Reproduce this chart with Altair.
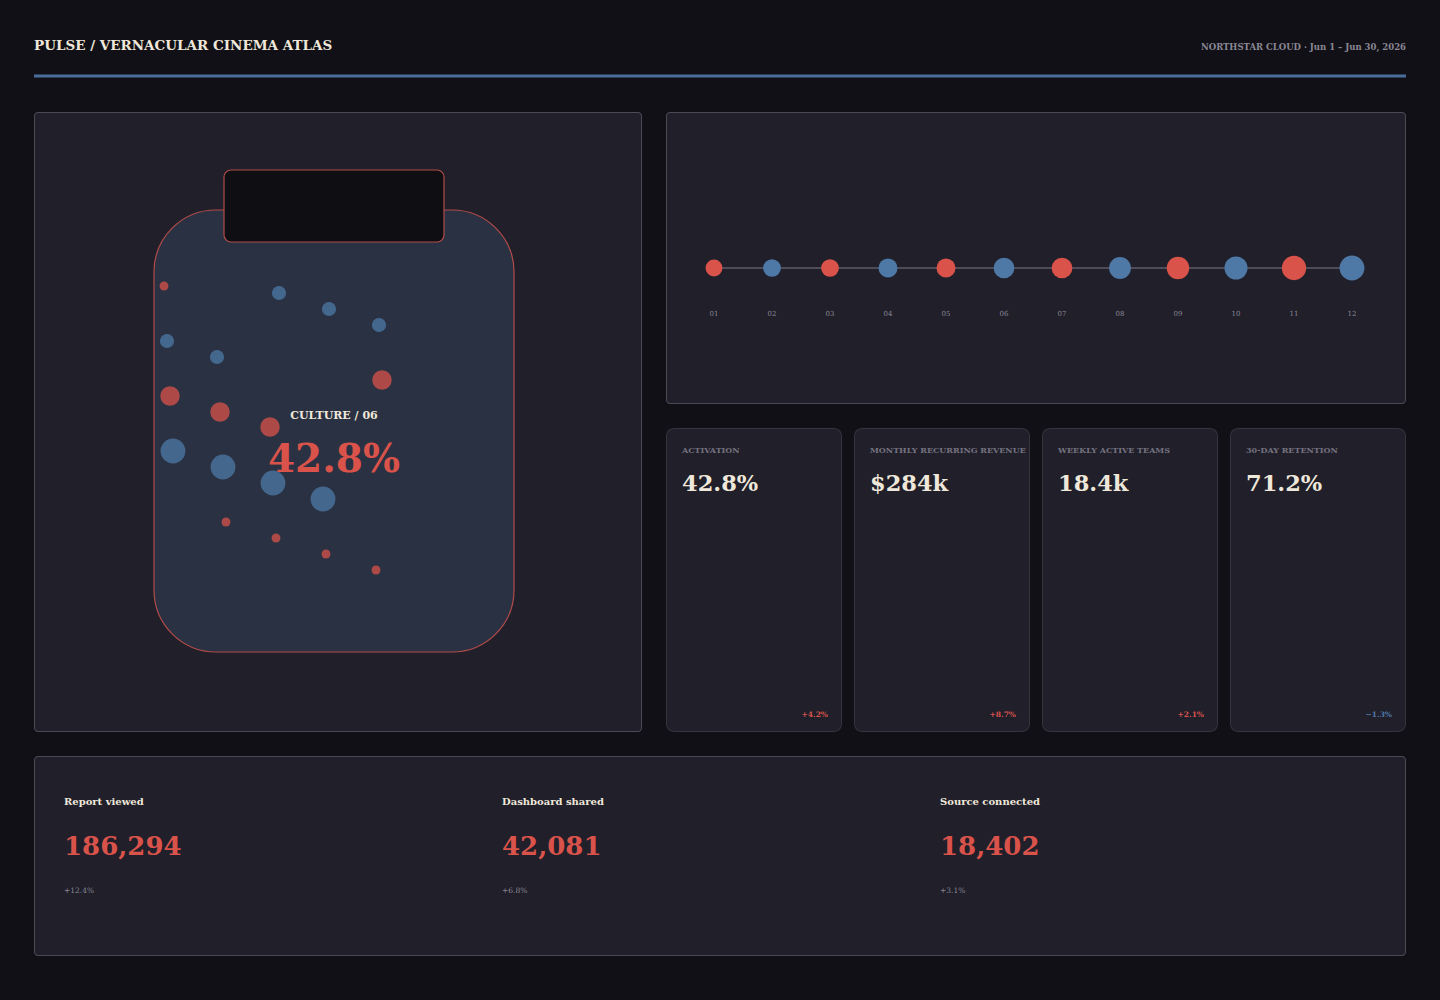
import altair as alt
import pandas as pd

# ---------------- data ----------------
header_title = "PULSE / VERNACULAR CINEMA ATLAS"
header_meta = "NORTHSTAR CLOUD · Jun 1 – Jun 30, 2026"

jar_label = "CULTURE / 06"
jar_value = "42.8%"
bubble_x = [130, 245, 295, 345, 133, 183, 348, 136, 186, 236, 139, 189, 239, 289, 192, 242, 292, 342]
bubble_y = [174, 181, 197, 213, 229, 245, 268, 284, 300, 315, 339, 355, 371, 387, 410, 426, 442, 458]
bubble_r = [5, 8, 8, 8, 8, 8, 11, 11, 11, 11, 14, 14, 14, 14, 5, 5, 5, 5]
bubble_kind = ["red", "blue", "blue", "blue", "blue", "blue", "red", "red", "red", "red",
               "blue", "blue", "blue", "blue", "red", "red", "red", "red"]

step_labels = ["01", "02", "03", "04", "05", "06", "07", "08", "09", "10", "11", "12"]
step_r = [9.5, 10, 10, 10.7, 10.7, 11.7, 11.7, 12.3, 12.7, 13, 13.7, 14]
step_kind = ["red", "blue", "red", "blue", "red", "blue", "red", "blue", "red", "blue", "red", "blue"]

card_labels = ["ACTIVATION", "MONTHLY RECURRING REVENUE", "WEEKLY ACTIVE TEAMS", "30-DAY RETENTION"]
card_values = ["42.8%", "$284k", "18.4k", "71.2%"]
card_deltas = ["+4.2%", "+8.7%", "+2.1%", "\u22121.3%"]
card_trend = ["up", "up", "up", "down"]

event_names = ["Report viewed", "Dashboard shared", "Source connected"]
event_counts = [186294, 42081, 18402]
event_deltas = ["+12.4%", "+6.8%", "+3.1%"]

# ---------------- style ----------------
SERIF = "DejaVu Serif"
BG = "#111016"
PANEL = "#201f2a"
PANEL_STROKE = "#4b4a55"
CARD_STROKE = "#35343f"
CREAM = "#efe8da"
MUTED = "#8a8794"
LABEL_GREY = "#75727f"
RED = "#d9534a"
BLUE = "#4e79a7"
BLUE_TXT = "#5b84b5"
JAR_FILL = "#2a3142"
JAR_STROKE = "#b24c4a"
LID_FILL = "#0f0e13"
RULE = "#4a6d9c"
LINE = "#4d4c58"

kind_color = alt.Scale(domain=["red", "blue"], range=[RED, BLUE])
size_scale = alt.Scale(type="pow", exponent=2, domain=[0, 14], range=[0, 616])
ONE = pd.DataFrame({"k": [0]})


def panel_bg(w, h, stroke, radius):
    """Panel frame: an outer rect in the border colour and an inner rect in the panel colour,
    both unstroked so that their bounds equal the view size exactly."""
    outer = alt.Chart(ONE).mark_rect(fill=stroke, cornerRadius=radius).encode(
        x=alt.value(0), x2=alt.value(w), y=alt.value(0), y2=alt.value(h))
    inner = alt.Chart(ONE).mark_rect(fill=PANEL, cornerRadius=max(radius - 1, 0)).encode(
        x=alt.value(1), x2=alt.value(w - 1), y=alt.value(1), y2=alt.value(h - 1))
    return [outer, inner]


# ---------------- header ----------------
hbase = alt.Chart(pd.DataFrame({"t": [header_title], "m": [header_meta]}))
h_title = hbase.mark_text(align="left", baseline="middle", font=SERIF, fontSize=13.5,
                          fontWeight="bold", color=CREAM).encode(
    x=alt.value(0), y=alt.value(16), text="t:N")
h_meta = hbase.mark_text(align="right", baseline="middle", font=SERIF, fontSize=8.5,
                         fontWeight="bold", color=MUTED).encode(
    x=alt.value(1372), y=alt.value(17), text="m:N")
h_rule = hbase.mark_rect(fill=RULE).encode(
    x=alt.value(0), x2=alt.value(1372), y=alt.value(44.5), y2=alt.value(47.5))
header = alt.layer(h_title, h_meta, h_rule).properties(width=1372, height=58)

# ---------------- jar panel ----------------
jbase = alt.Chart(pd.DataFrame({"label": [jar_label], "value": [jar_value]}))
jar_body = jbase.mark_rect(fill=JAR_FILL, stroke=JAR_STROKE, strokeWidth=1.2, cornerRadius=62).encode(
    x=alt.value(120), x2=alt.value(480), y=alt.value(98), y2=alt.value(540))
jar_lid = jbase.mark_rect(fill=LID_FILL, stroke=JAR_STROKE, strokeWidth=1.2, cornerRadius=7).encode(
    x=alt.value(190), x2=alt.value(410), y=alt.value(58), y2=alt.value(130))
bdf = pd.DataFrame({"x": bubble_x, "y": bubble_y, "r": bubble_r, "kind": bubble_kind})
bubbles = alt.Chart(bdf).mark_circle(opacity=0.75).encode(
    x=alt.X("x:Q", scale=alt.Scale(domain=[0, 608], nice=False, zero=False), axis=None),
    y=alt.Y("y:Q", scale=alt.Scale(domain=[0, 620], nice=False, reverse=True), axis=None),
    size=alt.Size("r:Q", scale=size_scale, legend=None),
    color=alt.Color("kind:N", scale=kind_color, legend=None),
)
jar_lab = jbase.mark_text(align="center", baseline="middle", font=SERIF, fontSize=11,
                          fontWeight="bold", color=CREAM).encode(
    x=alt.value(300), y=alt.value(304), text="label:N")
jar_val = jbase.mark_text(align="center", baseline="alphabetic", font=SERIF, fontSize=39,
                          fontWeight="bold", color=RED).encode(
    x=alt.value(300), y=alt.value(360), text="value:N")
jar_panel = alt.layer(*panel_bg(608, 620, PANEL_STROKE, 4), jar_body, jar_lid, bubbles,
                      jar_lab, jar_val).properties(width=608, height=620)

# ---------------- timeline panel ----------------
tdf = pd.DataFrame({"step": step_labels, "r": step_r, "kind": step_kind})
tx = alt.X("step:O", scale=alt.Scale(type="point", range=[48, 686], padding=0), axis=None)
tbase = alt.Chart(tdf)
t_line = tbase.mark_line(color=LINE, strokeWidth=2).encode(x=tx, y=alt.value(156))
t_dots = tbase.mark_circle(opacity=1).encode(
    x=tx, y=alt.value(156),
    size=alt.Size("r:Q", scale=size_scale, legend=None),
    color=alt.Color("kind:N", scale=kind_color, legend=None))
t_lab = tbase.mark_text(font=SERIF, fontSize=7, color=MUTED, baseline="middle").encode(
    x=tx, y=alt.value(202), text="step:N")
timeline = alt.layer(*panel_bg(740, 292, PANEL_STROKE, 4), t_line, t_dots, t_lab).properties(
    width=740, height=292)


# ---------------- KPI cards ----------------
def card(i):
    d = pd.DataFrame({"label": [card_labels[i]], "value": [card_values[i]],
                      "delta": [card_deltas[i]], "trend": [card_trend[i]]})
    b = alt.Chart(d)
    lab = b.mark_text(align="left", baseline="middle", font=SERIF, fontSize=8, fontWeight="bold",
                      color=LABEL_GREY, clip=True).encode(
        x=alt.value(16), y=alt.value(23), text="label:N")
    val = b.mark_text(align="left", baseline="middle", font=SERIF, fontSize=22.5, fontWeight="bold",
                      color=CREAM).encode(x=alt.value(16), y=alt.value(56), text="value:N")
    dl = b.mark_text(align="right", baseline="middle", font=SERIF, fontSize=7.5, fontWeight="bold").encode(
        x=alt.value(162), y=alt.value(287), text="delta:N",
        color=alt.Color("trend:N", scale=alt.Scale(domain=["up", "down"], range=[RED, BLUE_TXT]),
                        legend=None))
    return alt.layer(*panel_bg(176, 304, CARD_STROKE, 8), lab, val, dl).properties(width=176, height=304)


cards = alt.hconcat(*[card(i) for i in range(len(card_labels))], spacing=12)

# ---------------- bottom events panel ----------------
ev_layers = panel_bg(1372, 200, PANEL_STROKE, 4)
for i in range(len(event_names)):
    d = pd.DataFrame({"name": [event_names[i]], "count": [event_counts[i]], "delta": [event_deltas[i]]})
    b = alt.Chart(d)
    x0 = 30 + 438 * i
    ev_layers.append(b.mark_text(align="left", baseline="middle", font=SERIF, fontSize=10,
                                 fontWeight="bold", color=CREAM).encode(
        x=alt.value(x0), y=alt.value(46), text="name:N"))
    ev_layers.append(b.mark_text(align="left", baseline="middle", font=SERIF, fontSize=26,
                                 fontWeight="bold", color=RED).encode(
        x=alt.value(x0), y=alt.value(91), text=alt.Text("count:Q", format=",")))
    ev_layers.append(b.mark_text(align="left", baseline="middle", font=SERIF, fontSize=7.5,
                                 color=MUTED).encode(
        x=alt.value(x0), y=alt.value(135), text="delta:N"))
bottom = alt.layer(*ev_layers).properties(width=1372, height=200)

# ---------------- assemble ----------------
right_col = alt.vconcat(timeline, cards, spacing=24)
middle = alt.hconcat(jar_panel, right_col, spacing=24)
chart = alt.vconcat(header, middle, bottom, spacing=24).properties(
    padding={"left": 34, "right": 34, "top": 30, "bottom": 44},
    background=BG,
).configure_view(stroke="transparent", strokeWidth=0)

chart.save("out.html", embed_options={"renderer": "svg", "actions": False})
